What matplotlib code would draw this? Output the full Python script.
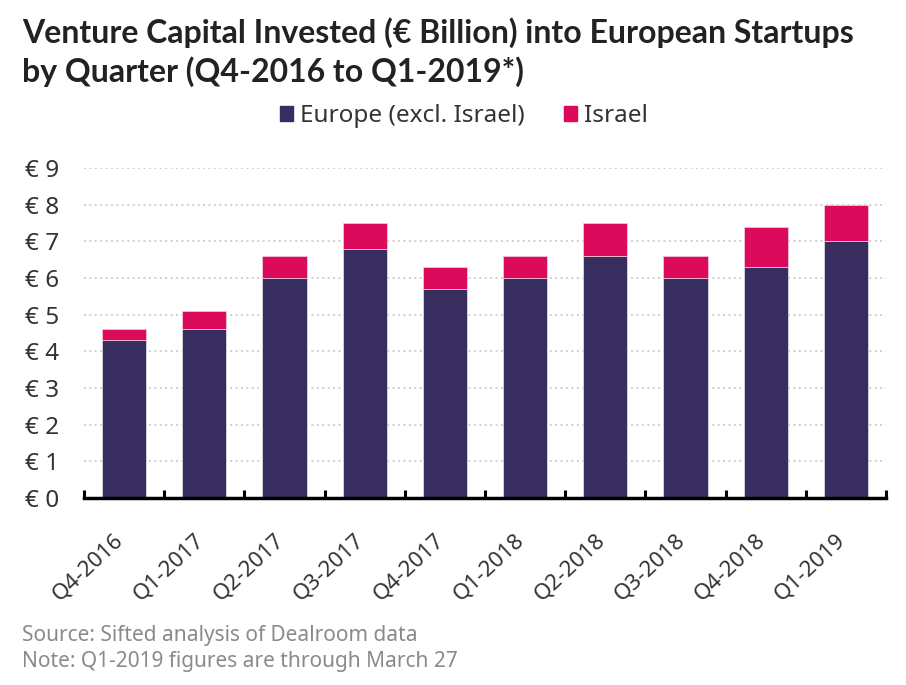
import matplotlib
matplotlib.use("Agg")
import matplotlib.pyplot as plt
from matplotlib.patches import Patch
import numpy as np

quarters = ["Q4-2016", "Q1-2017", "Q2-2017", "Q3-2017", "Q4-2017",
            "Q1-2018", "Q2-2018", "Q3-2018", "Q4-2018", "Q1-2019"]
europe = [4.3, 4.6, 6.0, 6.8, 5.7, 6.0, 6.6, 6.0, 6.3, 7.0]
israel = [0.3, 0.5, 0.6, 0.7, 0.6, 0.6, 0.9, 0.6, 1.1, 1.0]
y_ticks = [0, 1, 2, 3, 4, 5, 6, 7, 8, 9]
y_labels = [f"€ {v}" for v in y_ticks]

C_EU = "#372D5F"
C_IL = "#DC0A5A"
TXT = "#333333"

plt.rcParams['font.family'] = ['Noto Sans', 'DejaVu Sans']

fig = plt.figure(figsize=(9.06, 6.85), dpi=100)
ax = fig.add_axes([84/906, 1-498/685, (886-84)/906, (498-168)/685])

x = np.arange(len(quarters))
ax.bar(x, europe, width=0.55, color=C_EU, edgecolor="#e8e6ee", linewidth=0.5, zorder=3)
ax.bar(x, israel, bottom=europe, width=0.55, color=C_IL, edgecolor="#f4d0de", linewidth=0.5, zorder=3)

ax.set_xlim(-0.5, len(quarters)-0.5)
ax.set_ylim(0, 9)
ax.set_yticks(y_ticks)
ax.set_yticklabels(y_labels, fontsize=17.5, color=TXT)
ax.tick_params(axis='y', length=0, pad=18)
ax.yaxis.grid(True, linestyle=(0, (1, 2)), color="#c8c8c8", linewidth=1.3, zorder=0)

ax.set_xticks(x)
ax.set_xticklabels(quarters, rotation=43, ha='right', va='baseline', rotation_mode='anchor',
                   fontsize=16, color=TXT)
ax.tick_params(axis='x', which='major', length=0, pad=31)
ax.set_xticks(np.arange(-0.5, len(quarters), 1.0), minor=True)
ax.tick_params(axis='x', which='minor', direction='in', length=5.5, width=2.2, color='black')

for s in ['top', 'right', 'left']:
    ax.spines[s].set_visible(False)
ax.spines['bottom'].set_linewidth(2.5)
ax.spines['bottom'].set_color('black')
ax.spines['bottom'].set_zorder(5)

fig.text(22/906, 1-33/685, "Venture Capital Invested (€ Billion) into European Startups",
         fontsize=23, fontweight='bold', color="#222222", va='center', ha='left',
         family=['Lato', 'DejaVu Sans'])
fig.text(22/906, 1-72/685, "by Quarter (Q4-2016 to Q1-2019*)",
         fontsize=23, fontweight='bold', color="#222222", va='center', ha='left',
         family=['Lato', 'DejaVu Sans'])

handles = [Patch(color=C_EU, label="Europe (excl. Israel)"),
           Patch(color=C_IL, label="Israel")]
fig.legend(handles=handles, loc='center', bbox_to_anchor=(464/906, 1-116/685), ncol=2,
           frameon=False, fontsize=17.5, handlelength=0.55, handleheight=0.55,
           handletextpad=0.3, columnspacing=1.6, labelcolor=TXT)

fig.text(22/906, 1-636/685, "Source: Sifted analysis of Dealroom data",
         fontsize=15, color="#8a8a8a", va='center', ha='left')
fig.text(22/906, 1-662/685, "Note: Q1-2019 figures are through March 27",
         fontsize=15, color="#8a8a8a", va='center', ha='left')

fig.savefig("out.png", dpi=100)
